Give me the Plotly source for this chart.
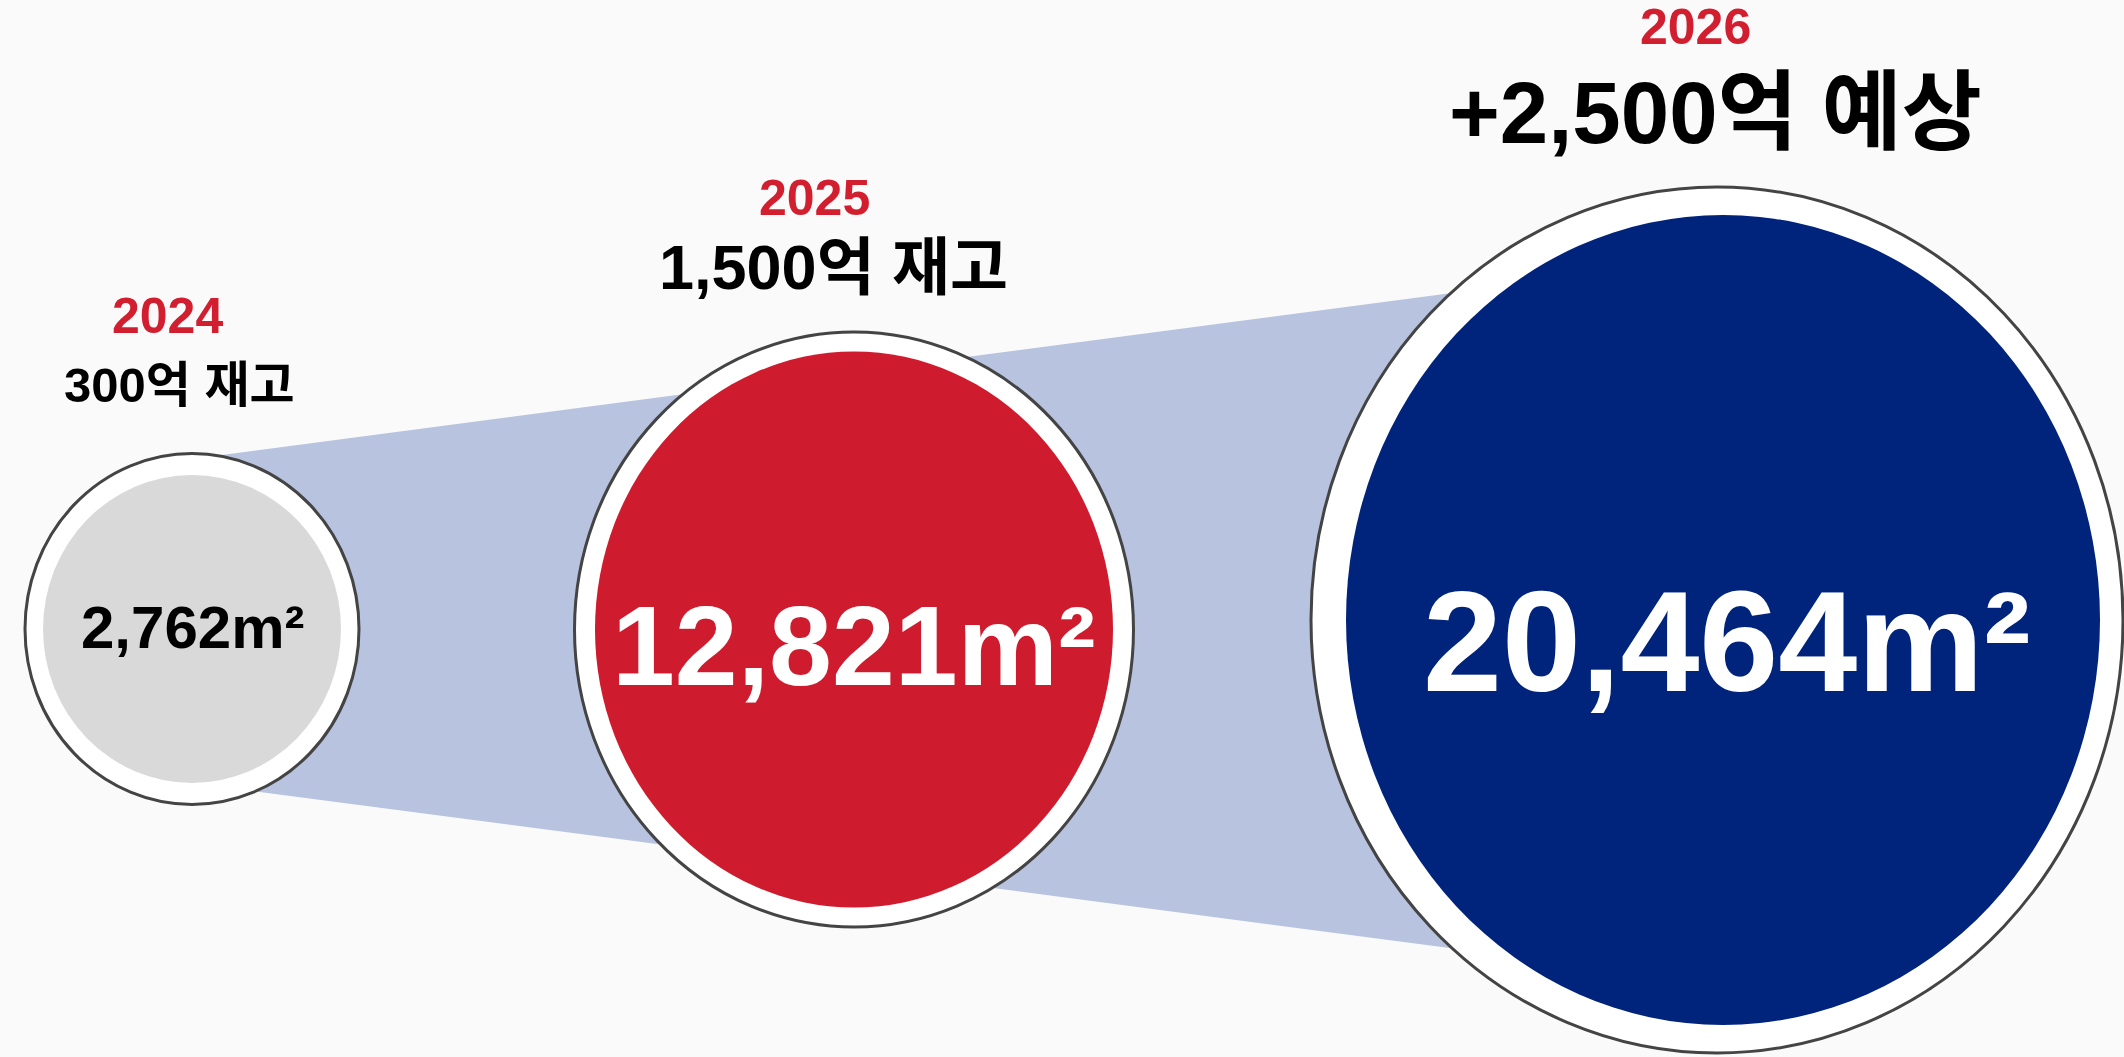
import plotly.graph_objects as go

# ---- data ----
years = ["2024", "2025", "2026"]
amount_labels = ["300억 재고", "1,500억 재고", "+2,500억 예상"]
areas = [2762, 12821, 20464]

# ---- layout constants (pixel-like data units) ----
W, H = 2124, 1057
cx = [192, 854, 1717]
cy = [629, 629.5, 620]
outer_rx = [167, 279.5, 406]
outer_ry = [175.5, 297.5, 433]
inner_cx = [192, 854, 1723]
inner_rx = [149, 259, 377]
inner_ry = [154, 278, 405]
inner_colors = ["#d9d9d9", "#ce1b2d", "#00237b"]
area_text_colors = ["#000000", "#ffffff", "#ffffff"]
area_font_sizes = [60, 113, 142]
area_text_y = [627, 646, 641]
area_text_x = [192, 854, 1727]
label_font_sizes = [49, 63, 87]
label_x = [179, 833, 1715]
label_y = [385, 267, 112]
year_x = [167, 814, 1695]
year_y = [316, 198, 27]
year_font_size = 50

BG = "#fafafa"
BAND = "#b8c3e0"
RED = "#d21f30"
FONT = "Liberation Sans, Arial, Noto Sans CJK KR, sans-serif"

fig = go.Figure()
# invisible trace to establish axes
fig.add_trace(go.Scatter(x=[0, W], y=[0, H], mode="markers",
                         marker=dict(opacity=0), hoverinfo="skip", showlegend=False))

shapes = []
# funnel band from first to last circle
band_top = [459, 258]
band_bot = [783, 983]
shapes.append(dict(
    type="path",
    path=f"M {cx[0]},{band_top[0]} L {cx[2]},{band_top[1]} L {cx[2]},{band_bot[1]} L {cx[0]},{band_bot[0]} Z",
    fillcolor=BAND, line=dict(width=0), layer="below", xref="x", yref="y"))

for i in range(3):
    shapes.append(dict(type="circle", xref="x", yref="y",
                       x0=cx[i] - outer_rx[i], x1=cx[i] + outer_rx[i],
                       y0=cy[i] - outer_ry[i], y1=cy[i] + outer_ry[i],
                       fillcolor="#ffffff", line=dict(color="#444444", width=3)))
    shapes.append(dict(type="circle", xref="x", yref="y",
                       x0=inner_cx[i] - inner_rx[i], x1=inner_cx[i] + inner_rx[i],
                       y0=cy[i] - inner_ry[i], y1=cy[i] + inner_ry[i],
                       fillcolor=inner_colors[i], line=dict(width=0)))

annotations = []
for i in range(3):
    annotations.append(dict(x=year_x[i], y=year_y[i], xref="x", yref="y",
                            text=years[i], showarrow=False,
                            xanchor="center", yanchor="middle",
                            font=dict(family=FONT, size=year_font_size, color=RED, weight="bold")))
    annotations.append(dict(x=label_x[i], y=label_y[i], xref="x", yref="y",
                            text=amount_labels[i], showarrow=False,
                            xanchor="center", yanchor="middle",
                            font=dict(family=FONT, size=label_font_sizes[i], color="#000000", weight="bold")))
    annotations.append(dict(x=area_text_x[i], y=area_text_y[i], xref="x", yref="y",
                            text=f"{areas[i]:,}m²", showarrow=False,
                            xanchor="center", yanchor="middle",
                            font=dict(family=FONT, size=area_font_sizes[i], color=area_text_colors[i], weight="bold")))

fig.update_layout(
    width=W, height=H,
    margin=dict(l=0, r=0, t=0, b=0),
    paper_bgcolor=BG, plot_bgcolor=BG,
    xaxis=dict(range=[0, W], visible=False, fixedrange=True),
    yaxis=dict(range=[H, 0], visible=False, fixedrange=True),
    shapes=shapes, annotations=annotations,
    showlegend=False,
)

fig.write_html("out.html", config={"displayModeBar": False},
               post_script="document.body.style.margin='0';document.body.style.background='#fafafa';document.body.style.overflow='hidden';")
